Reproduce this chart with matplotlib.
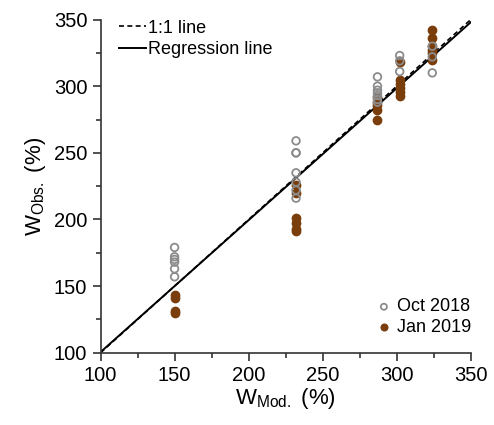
import numpy as np
import matplotlib.pyplot as plt
from matplotlib.ticker import MultipleLocator

plt.rcParams['font.family'] = ['Liberation Sans', 'DejaVu Sans']

# modelled vs observed W (%)
oct_x = [150, 150, 150, 150, 150, 150,
         232, 232, 232, 232, 232, 232, 232,
         287, 287, 287, 287, 287, 287, 287,
         302, 302, 302,
         324, 324, 324]
oct_y = [179, 172, 170, 168, 163, 157,
         259, 250, 250, 235, 228, 222, 216,
         307, 300, 297, 295, 293, 290, 288,
         323, 319, 311,
         330, 322, 310]

jan_x = [150, 150, 150, 150,
         232, 232, 232, 232, 232, 232,
         287, 287, 287, 287, 287,
         302, 302, 302, 302, 302, 302,
         324, 324, 324, 324, 324, 324]
jan_y = [143, 141, 131, 130,
         226, 220, 201, 197, 193, 191,
         292, 288, 286, 282, 275,
         318, 305, 302, 299, 296, 293,
         342, 336, 330, 327, 325, 320]

# regression fit
slope = 0.99
intercept = 1.5

fig = plt.figure(figsize=(4.94, 4.25), dpi=100)
ax = fig.add_axes([0.2035, 0.170, 0.7495, 0.784])

xl = np.array([100, 350])
l1, = ax.plot(xl, xl, color='black', ls=(0, (3, 2)), lw=1.2)
l2, = ax.plot(xl, slope * xl + intercept, color='black', lw=1.4)

p1 = ax.scatter(oct_x, oct_y, s=30, facecolors='none', edgecolors='#8c8c8c', linewidths=1.3, zorder=3)
p2 = ax.scatter(jan_x, jan_y, s=36, color='#7a3e0c', zorder=2)

ax.set_xlim(100, 350)
ax.set_ylim(100, 350)
ax.xaxis.set_major_locator(MultipleLocator(50))
ax.yaxis.set_major_locator(MultipleLocator(50))
ax.xaxis.set_minor_locator(MultipleLocator(25))
ax.yaxis.set_minor_locator(MultipleLocator(25))
ax.tick_params(which='major', direction='out', length=6, width=1.2, labelsize=14.5, color='#333333')
ax.tick_params(which='minor', direction='out', length=3.5, width=1.2, color='#333333')

for s in ['top', 'right']:
    ax.spines[s].set_visible(False)
for s in ['left', 'bottom']:
    ax.spines[s].set_linewidth(1.2)
    ax.spines[s].set_color('#333333')

ax.set_xlabel(r"W$_\mathregular{Mod.}$ (%)", fontsize=16, labelpad=1)
ax.set_ylabel(r"W$_\mathregular{Obs.}$ (%)", fontsize=16, labelpad=4)

leg1 = ax.legend([l1, l2], ['1:1 line', 'Regression line'], loc='upper left',
                 frameon=False, fontsize=13, handlelength=1.5, handletextpad=0.1,
                 borderpad=0, borderaxespad=0, labelspacing=0.25,
                 bbox_to_anchor=(0.05, 1.0))
ax.add_artist(leg1)
ax.legend([p1, p2], ['Oct 2018', 'Jan 2019'], loc='lower right', frameon=False,
          fontsize=13, handlelength=0.8, handletextpad=0.3, labelspacing=0.2,
          borderpad=0, borderaxespad=0, markerscale=0.8,
          bbox_to_anchor=(1.0, 0.05))

fig.savefig('out.png', dpi=100)
